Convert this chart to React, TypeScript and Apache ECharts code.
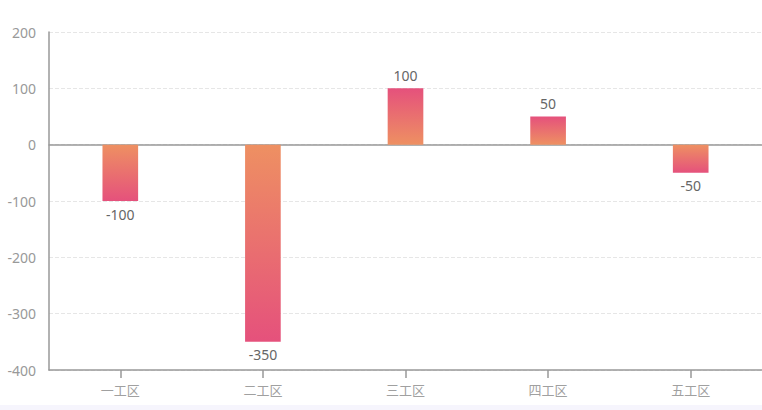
import React, { useEffect, useRef } from "react";
import * as echarts from "echarts";

const categories = ["一工区", "二工区", "三工区", "四工区", "五工区"];
const values = [-100, -350, 100, 50, -50];
const yTicks = { min: -400, max: 200, interval: 100 };

const PINK = "#e5517c";
const ORANGE = "#ee9062";

export default function App() {
  const ref = useRef<HTMLDivElement>(null);
  useEffect(() => {
    document.body.style.margin = "0";
    document.body.style.background = "#f6f5fd";
    const chart = echarts.init(ref.current!, null, { renderer: "svg" });
    const data = values.map((v) => ({
      value: v,
      itemStyle: {
        color: new echarts.graphic.LinearGradient(0, 0, 0, 1,
          v >= 0
            ? [{ offset: 0, color: PINK }, { offset: 1, color: ORANGE }]
            : [{ offset: 0, color: ORANGE }, { offset: 1, color: PINK }]),
      },
      label: { position: v >= 0 ? "top" : "bottom" },
    }));
    chart.setOption({
      animation: false,
      backgroundColor: "#ffffff",
      grid: { left: 49, right: -5, top: 32, bottom: 35 },
      xAxis: [
        {
          type: "category",
          data: categories,
          position: "bottom",
          axisLine: { onZero: false, lineStyle: { color: "#999", width: 1.5 } },
          axisTick: { show: true, alignWithLabel: true, length: 8, lineStyle: { color: "#999", width: 1.5 } },
          axisLabel: { color: "#a0a0a0", fontSize: 13, margin: 13, fontFamily: "Noto Sans CJK SC" },
          splitLine: { show: false },
        },
        {
          type: "category",
          data: categories,
          position: "top",
          axisLine: { onZero: true, lineStyle: { color: "#999", width: 1.5 } },
          axisTick: { show: false },
          axisLabel: { show: false },
          splitLine: { show: false },
        },
      ],
      yAxis: {
        type: "value",
        min: yTicks.min,
        max: yTicks.max,
        interval: yTicks.interval,
        axisLine: { show: true, lineStyle: { color: "#999", width: 1.5 } },
        axisTick: { show: false },
        axisLabel: { color: "#999", fontSize: 14, margin: 13, fontFamily: "Noto Sans" },
        splitLine: { show: true, lineStyle: { color: "#e6e6e6", type: "dashed" } },
      },
      series: [
        {
          type: "bar",
          xAxisIndex: 0,
          data,
          barWidth: "25%",
          label: {
            show: true,
            color: "#666",
            fontSize: 14,
            distance: 6,
            fontFamily: "Noto Sans",
          },
        },
      ],
    });
    return () => chart.dispose();
  }, []);
  return <div ref={ref} style={{ width: 762, height: 405 }} />;
}
